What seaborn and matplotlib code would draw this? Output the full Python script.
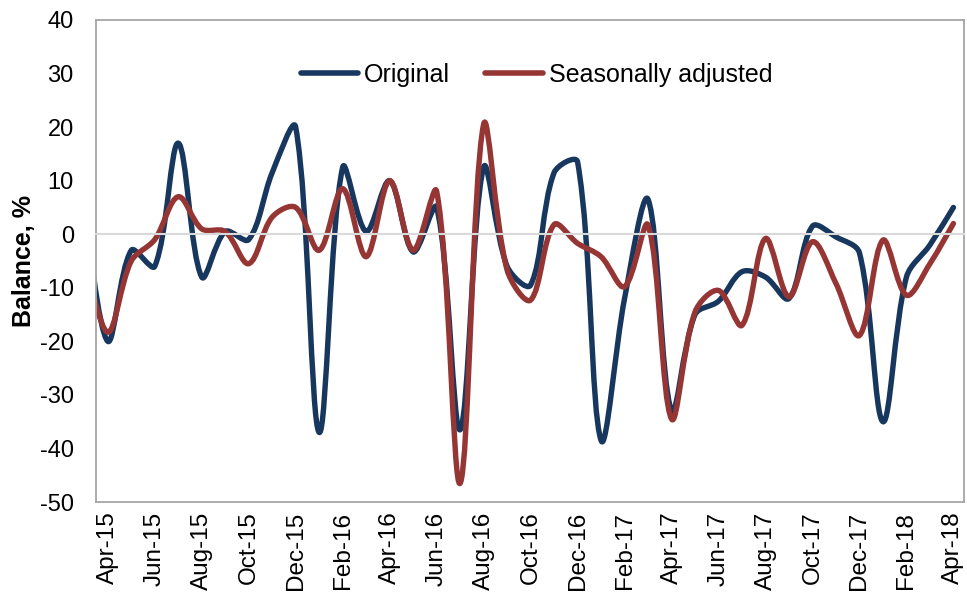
import matplotlib
matplotlib.use("Agg")
import matplotlib.pyplot as plt
from matplotlib.path import Path
from matplotlib.patches import PathPatch
from matplotlib.lines import Line2D
import numpy as np
import pandas as pd
import seaborn as sns

# monthly balances, Mar-15 (partly clipped at the left edge) to Apr-18
months = list(pd.date_range("2015-03-01", periods=38, freq="MS").strftime("%b-%y"))
original = [5, -20, -3, -6, 17, -8, 0.5, -1, 11.5, 20, -37, 12.5, 0.5, 10, -3.3, 5,
            -36.5, 12.5, -6, -9.5, 11.5, 13.5, -38.5, -12, 6.5, -33, -15, -12.5,
            -7, -8, -12, 1.5, -0.5, -3.5, -35, -8, -2, 5]
seasonal = [-4, -18.3, -5, -1, 7, 1, 0.5, -5.5, 3.2, 5, -3, 8.5, -4.2, 10, -3, 8,
            -46.5, 20.5, -6.7, -12.3, 1.8, -1.7, -4.2, -9.8, 1.7, -34.5, -14.5, -10.5,
            -17, -0.8, -11.7, -1.4, -9.2, -18.9, -1.1, -11.4, -5.5, 2]
series_names = ["Original", "Seasonally adjusted"]
colors = ["#17375E", "#963634"]

df = pd.DataFrame({"month": months, "Original": original, "Seasonally adjusted": seasonal})
df["pos"] = np.arange(len(df)) - 1  # Apr-15 sits at 0


def smooth_path(x, y, sx=23.5, sy=5.35):
    # Excel-style smoothed line: cubic Bezier through every point, control
    # arms weighted by chord lengths on screen (sx, sy = px per data unit)
    pts = np.column_stack([x, y]).astype(float)
    n = len(pts)
    scr = pts * [sx, sy]
    chord = np.hypot(*np.diff(scr, axis=0).T)
    out_arm, in_arm = np.zeros_like(pts), np.zeros_like(pts)
    for i in range(n):
        p0 = pts[max(i - 1, 0)]
        p2 = pts[min(i + 1, n - 1)]
        t = p2 - p0
        dp = chord[i - 1] if i > 0 else chord[0]
        dn = chord[i] if i < n - 1 else chord[-1]
        out_arm[i] = t / 3 * dn / (dp + dn)
        in_arm[i] = t / 3 * dp / (dp + dn)
    verts, codes = [pts[0]], [Path.MOVETO]
    for i in range(n - 1):
        verts += [pts[i] + out_arm[i], pts[i + 1] - in_arm[i + 1], pts[i + 1]]
        codes += [Path.CURVE4] * 3
    return Path(verts, codes)


sns.set_style("white")
plt.rcParams["font.family"] = ["Liberation Sans", "DejaVu Sans"]
plt.rcParams["axes.unicode_minus"] = False
plt.rcParams["text.color"] = "black"
plt.rcParams["axes.labelcolor"] = "black"
plt.rcParams["xtick.labelcolor"] = "black"
plt.rcParams["ytick.labelcolor"] = "black"

fig = plt.figure(figsize=(9.67, 5.98), dpi=100)
ax = fig.add_axes([0.0993, 0.1605, 0.8976, 0.8061])

for name, col in zip(series_names, colors):
    patch = PathPatch(smooth_path(df["pos"], df[name]), fill=False, edgecolor=col,
                      lw=3.9, capstyle="round", joinstyle="round")
    ax.add_patch(patch)

ax.set_xlim(-0.5, 36.45)
ax.set_ylim(-50, 40)
ax.set_yticks(np.arange(-50, 41, 10))
ax.tick_params(axis="y", length=0, pad=16, labelsize=17, labelcolor="black")

# zero line acting as the category axis, with tick marks every two months
for side in ["left", "right", "top"]:
    ax.spines[side].set_color("#A6A6A6")
    ax.spines[side].set_linewidth(1.3)
ax.spines["bottom"].set_position(("data", 0))
ax.spines["bottom"].set_color("#D9D9D9")
ax.spines["bottom"].set_linewidth(1.5)
ax.set_xticks(np.arange(-0.5, 36, 2))
ax.tick_params(axis="x", length=5, width=1.5, color="#D9D9D9", labelbottom=False)

# month labels along the bottom of the box
sec = ax.secondary_xaxis("bottom")
sec.set_xticks(df["pos"].iloc[1::2], labels=df["month"].iloc[1::2])
sec.tick_params(length=0, pad=7, labelsize=17.5, labelrotation=90, labelcolor="black")
sec.spines["bottom"].set_color("#A6A6A6")
sec.spines["bottom"].set_linewidth(1.3)

ax.set_ylabel("Balance, %", fontsize=18, fontweight="bold", color="black")
ax.yaxis.set_label_coords(-0.069, 0.5)

handles = [Line2D([], [], color=c, lw=4, solid_capstyle="round") for c in colors]
ax.legend(handles, series_names, loc="center", bbox_to_anchor=(0.5075, 0.886), ncol=2,
          frameon=False, fontsize=18, handlelength=2.3, handletextpad=0.25,
          columnspacing=1.4, labelcolor="black")

fig.savefig("out.png", dpi=100)
